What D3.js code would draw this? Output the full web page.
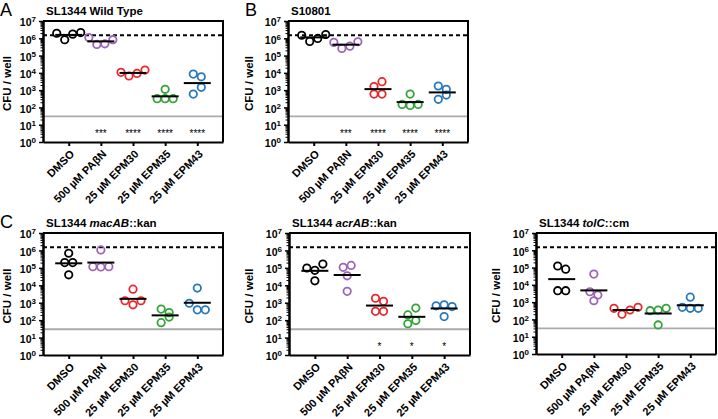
<!DOCTYPE html>
<html>
<head>
<meta charset="utf-8">
<script src="https://cdn.jsdelivr.net/npm/d3@7"></script>
<style>
body { margin: 0; background: #fff; }
svg text { font-family: "Liberation Sans", Arial, sans-serif; }
</style>
</head>
<body>
<svg></svg>
<script>
// treatment groups, shared by all panels
const categories = ["DMSO", "500 µM PAβN", "25 µM EPM30", "25 µM EPM35", "25 µM EPM43"];
const groupColors = ["#000000", "#9d64b8", "#e8282d", "#35a23a", "#2779bd"];
const yTicks = [1e0, 1e1, 1e2, 1e3, 1e4, 1e5, 1e6, 1e7];
const inoculum = 1.5e6;      // dashed line
const detectionLimit = 30;   // grey line

// CFU / well, one array of 4 replicates per group
const wildType = [
    [1.95e6, 8.3e5, 1.74e6, 2.14e6],
    [1.1e6, 4.4e5, 4.8e5, 8.3e5],
    [1.07e4, 6.6e3, 9.3e3, 1.45e4],
    [1.12e3, 3.2e2, 3.2e2, 3.2e2],
    [8.5e3, 5.9e3, 5.9e2, 1.45e3]
];
const s10801 = [
    [1.5e6, 6.6e5, 9.8e5, 1.66e6],
    [5.8e5, 2.6e5, 3.5e5, 6.3e5],
    [1.6e3, 3.1e3, 5.9e2, 5.9e2],
    [5.9e2, 1.5e2, 1.3e2, 1.5e2],
    [1.74e3, 1.12e3, 2.95e2, 5.2e2]
];
const macAB = [
    [6.9e5, 2.0e5, 2.0e5, 4.0e4],
    [1.07e6, 1.17e5, 1.12e5, 1.17e5],
    [6.0e3, 1.3e3, 7.6e2, 1.3e3],
    [4.3e2, 2.7e2, 7.2e1, 1.5e2],
    [6.9e3, 9.3e2, 3.9e2, 3.9e2]
];
const acrAB = [
    [9.8e4, 7.2e4, 1.65e5, 1.8e4],
    [1.07e5, 1.38e5, 3.5e4, 4.5e3],
    [1.8e3, 1.2e3, 3.2e2, 3.2e2],
    [2.0e2, 4.9e2, 6.2e1, 9.5e1],
    [6.6e2, 7.6e2, 6.0e2, 1.6e2]
];
const tolC = [
    [1.23e5, 8.1e4, 4.6e3, 4.6e3],
    [4.2e4, 4.0e3, 2.6e3, 1.2e3],
    [4.4e2, 2.0e2, 3.5e2, 5.0e2],
    [3.2e2, 3.5e2, 4.4e2, 4.8e1],
    [1.95e3, 5.0e2, 4.4e2, 4.4e2]
];

const wildTypeStars = ["", "***", "****", "****", "****"];
const s10801Stars = ["", "***", "****", "****", "****"];
const acrABStars = ["", "", "*", "*", "*"];

const panels = [
    {letter: "A", title: [["SL1344 Wild Type", false]], data: wildType, stars: wildTypeStars,
     x0: 43, x1: 223, y0: 21, y1: 142, labelX: 7},
    {letter: "B", title: [["S10801", false]], data: s10801, stars: s10801Stars,
     x0: 288, x1: 468, y0: 21, y1: 142, labelX: 249},
    {letter: "C", title: [["SL1344 ", false], ["macAB", true], ["::kan", false]], data: macAB, stars: null,
     x0: 43, x1: 223, y0: 233, y1: 355, labelX: 7},
    {letter: null, title: [["SL1344 ", false], ["acrAB", true], ["::kan", false]], data: acrAB, stars: acrABStars,
     x0: 289, x1: 470, y0: 233, y1: 355, labelX: 249},
    {letter: null, title: [["SL1344 ", false], ["tolC", true], ["::cm", false]], data: tolC, stars: null,
     x0: 536, x1: 716, y0: 233, y1: 354, labelX: 496}
];

const svg = d3.select('svg')
    .attr('width', 718)
    .attr('height', 419);

// spread replicates that sit at about the same height side by side
function swarm(values, y, limit, step) {
    const order = values.map((v, i) => i).sort((a, b) => values[b] - values[a]);
    const rows = [];
    let row = null;
    order.forEach(i => {
        if (row && Math.abs(y(values[i]) - y(values[row[0]])) < limit) row.push(i);
        else { row = [i]; rows.push(row); }
    });
    const offsets = [];
    rows.forEach(r => {
        r.sort((a, b) => a - b);
        r.forEach((i, k) => offsets[i] = (k - (r.length - 1) / 2) * step);
    });
    return offsets;
}

function drawPanel(p) {
    const x = d3.scalePoint().domain(categories).range([p.x0, p.x1]).padding(0.8);
    const y = d3.scaleLog().domain([1, 1e7]).range([p.y1, p.y0]);

    const g = svg.append('g');

    if (p.letter) {
        g.append('text')
            .attr('x', p.x0 - 43)
            .attr('y', p.y0 - 5)
            .attr('font-size', 18)
            .text(p.letter);
    }

    const title = g.append('text')
        .attr('x', p.x0 + 3)
        .attr('y', p.y0 - 6)
        .attr('font-size', 11.5)
        .attr('font-weight', 'bold');
    p.title.forEach(t => {
        title.append('tspan')
            .attr('font-style', t[1] ? 'italic' : 'normal')
            .text(t[0]);
    });

    g.append('text')
        .attr('transform', `translate(${p.labelX + 4}, ${(p.y0 + p.y1) / 2 + 2}) rotate(-90)`)
        .attr('text-anchor', 'middle')
        .attr('font-size', 11.5)
        .attr('font-weight', 'bold')
        .text('CFU / well');

    // reference lines
    g.append('line')
        .attr('x1', p.x0).attr('x2', p.x1)
        .attr('y1', y(detectionLimit)).attr('y2', y(detectionLimit))
        .attr('stroke', '#aaaaaa')
        .attr('stroke-width', 1.8);
    g.append('line')
        .attr('x1', p.x0).attr('x2', p.x1)
        .attr('y1', y(inoculum)).attr('y2', y(inoculum))
        .attr('stroke', 'black')
        .attr('stroke-width', 2)
        .attr('stroke-dasharray', '4,3');

    // frame top and right
    g.append('path')
        .attr('d', `M${p.x0},${p.y0}H${p.x1}V${p.y1}`)
        .attr('fill', 'none')
        .attr('stroke', 'black')
        .attr('stroke-width', 2);

    // minor log ticks
    const minor = [];
    for (let e = 0; e < 7; e++) for (let m = 2; m < 10; m++) minor.push(m * Math.pow(10, e));
    g.append('g')
        .attr('transform', `translate(${p.x0}, 0)`)
        .call(d3.axisLeft(y).tickValues(minor).tickSize(2.5).tickSizeOuter(0).tickFormat(''))
        .call(a => a.selectAll('line').attr('stroke-width', 1));

    const yAxis = g.append('g')
        .attr('transform', `translate(${p.x0}, 0)`)
        .call(d3.axisLeft(y).tickValues(yTicks).tickSize(4).tickSizeOuter(0).tickPadding(3).tickFormat(''));
    yAxis.select('.domain').attr('stroke-width', 2.5);
    yAxis.selectAll('line').attr('stroke-width', 1.5);
    yAxis.selectAll('.tick text')
        .attr('font-size', 10.5)
        .attr('font-weight', 'bold')
        .attr('font-family', '"Liberation Sans", Arial, sans-serif')
        .attr('dy', '0.45em')
        .each(function(d) {
            const t = d3.select(this);
            t.append('tspan').text('10');
            t.append('tspan').attr('dy', '-0.5em').attr('font-size', 8).text(Math.round(Math.log10(d)));
        });

    const xAxis = g.append('g')
        .attr('transform', `translate(0, ${p.y1})`)
        .call(d3.axisBottom(x).tickSize(4).tickSizeOuter(0));
    xAxis.select('.domain').attr('stroke-width', 2);
    xAxis.selectAll('line').attr('stroke-width', 2);
    xAxis.selectAll('.tick text')
        .attr('font-size', 11)
        .attr('font-weight', 'bold')
        .attr('font-family', '"Liberation Sans", Arial, sans-serif')
        .attr('text-anchor', 'end')
        .attr('x', 0).attr('y', 0).attr('dy', '0.35em')
        .attr('transform', 'translate(3, 10) rotate(-45)');

    // replicates and geometric mean
    p.data.forEach((vals, gi) => {
        const cx = x(categories[gi]);
        const offs = swarm(vals, y, 7.5, 8);
        g.append('g').selectAll('circle')
            .data(vals)
            .join('circle')
            .attr('cx', (d, i) => cx + offs[i])
            .attr('cy', d => y(d))
            .attr('r', 3.7)
            .attr('fill', 'none')
            .attr('stroke', groupColors[gi])
            .attr('stroke-width', 1.8);
        const mean = Math.pow(10, d3.mean(vals, v => Math.log10(v)));
        g.append('line')
            .attr('x1', cx - 13.5).attr('x2', cx + 13.5)
            .attr('y1', y(mean)).attr('y2', y(mean))
            .attr('stroke', 'black')
            .attr('stroke-width', 2);
    });

    if (p.stars) {
        g.append('g').selectAll('text')
            .data(p.stars)
            .join('text')
            .attr('x', (d, i) => x(categories[i]))
            .attr('y', p.y1 - 5)
            .attr('text-anchor', 'middle')
            .attr('font-size', 10)
            .attr('fill', 'black')
            .text(d => d);
    }
}

panels.forEach(drawPanel);
</script>
</body>
</html>
